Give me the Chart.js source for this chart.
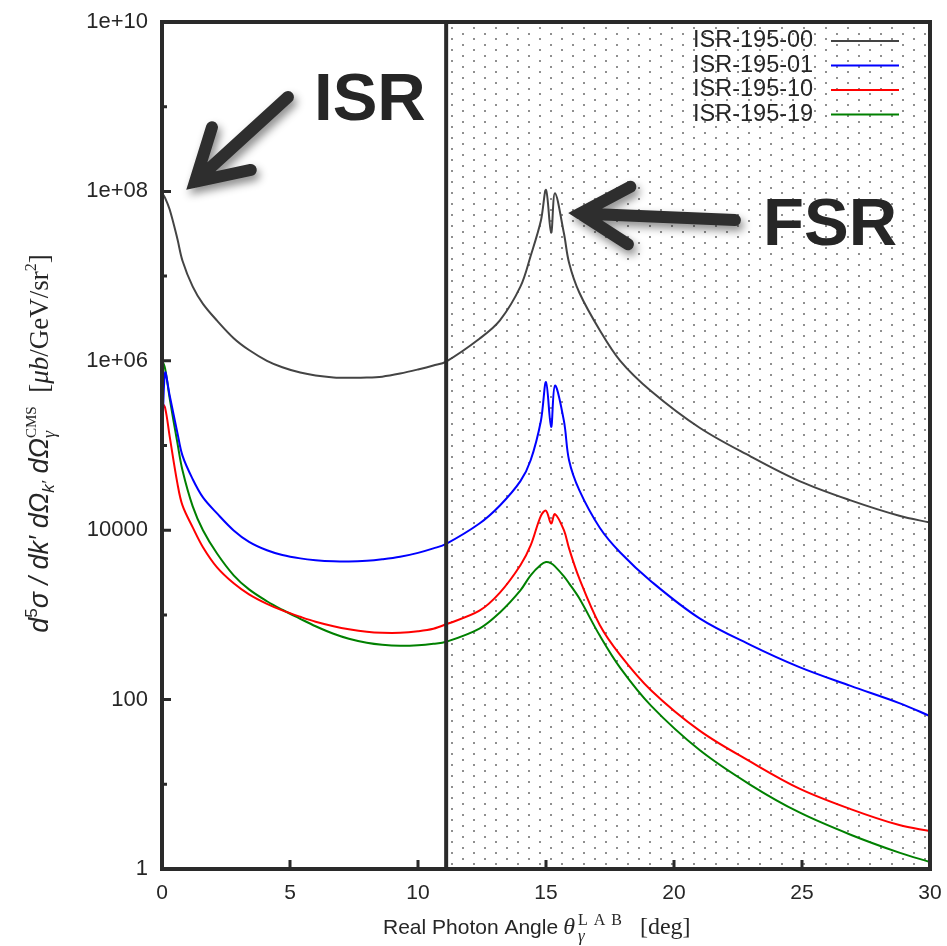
<!DOCTYPE html>
<html lang="en">
<head>
  <meta charset="UTF-8">
  <title>Real photon angle spectrum</title>
  <script src="https://cdn.jsdelivr.net/npm/chart.js"></script>
  <style>
    body { margin: 0; background: #fff; }
  </style>
</head>
<body>
  <canvas id="isrChart" width="947" height="946"></canvas>
  <script>
    // photon angle in the lab frame (deg)
    const angles = [0, 0.12, 0.3, 0.6, 0.8, 1.2, 1.6, 2.15, 2.8, 3.4, 4.1, 4.7, 5.4, 6.0, 6.7, 7.3, 8.0, 8.6, 9.3, 10.0,
      10.6, 11.1, 12.4, 13.2, 14.0, 14.4, 14.8, 15.0, 15.2, 15.35, 15.7, 15.9, 16.3, 17.1, 17.9, 19.1, 21.0, 23.0, 24.9,
      26.9, 28.8, 30.0];

    // cross sections, μb/GeV/sr²
    const isr00 = [9.6e7, 8.4e7, 6.1e7, 2.76e7, 1.52e7, 7.5e6, 4.7e6, 2.98e6, 1.85e6, 1.34e6, 1.0e6, 8.4e5, 7.26e5,
      6.7e5, 6.37e5, 6.3e5, 6.33e5, 6.5e5, 7.07e5, 7.9e5, 8.8e5, 9.8e5, 1.82e6, 3.0e6, 7.5e6, 1.73e7, 4.5e7, 1.04e8,
      3.25e7, 9.5e7, 3.2e7, 1.44e7, 6.4e6, 2.3e6, 1.0e6, 4.4e5, 1.62e5, 7.4e4, 3.8e4, 2.25e4, 1.48e4, 1.23e4];
    const isr01 = [9.1e4, 7.2e5, 3.9e5, 1.42e5, 7.6e4, 4.0e4, 2.44e4, 1.58e4, 9.95e3, 7.3e3, 5.8e3, 5.1e3, 4.65e3,
      4.43e3, 4.29e3, 4.26e3, 4.35e3, 4.53e3, 4.85e3, 5.4e3, 6.1e3, 6.9e3, 1.2e4, 1.96e4, 3.8e4, 6.7e4, 1.95e5, 5.6e5,
      1.66e5, 5.1e5, 1.95e5, 6.7e4, 2.97e4, 1.07e4, 5.45e3, 2.5e3, 910, 440, 242, 145, 91, 64];
    const isr10 = [3.2e5, 2.8e5, 1.28e5, 3.6e4, 1.96e4, 1.08e4, 6.3e3, 3.64e3, 2.36e3, 1.75e3, 1.35e3, 1.13e3, 950,
      830, 735, 677, 632, 615, 615, 641, 686, 775, 1.12e3, 1.83e3, 3.85e3, 6.6e3, 1.48e4, 1.7e4, 1.2e4, 1.55e4, 1.0e4,
      6.1e3, 2.7e3, 760, 335, 129, 43, 18.4, 8.9, 5.1, 3.3, 2.8];
    const isr19 = [1.03e6, 8.1e5, 3.6e5, 1.08e5, 5.1e4, 1.91e4, 1.0e4, 5.3e3, 2.93e3, 2.0e3, 1.45e3, 1.15e3, 900, 735,
      599, 523, 469, 444, 432, 438, 456, 482, 690, 1.07e3, 1.95e3, 2.93e3, 3.9e3, 4.2e3, 4.06e3, 3.74e3, 2.85e3,
      2.36e3, 1.57e3, 570, 237, 85, 25.4, 9.8, 4.65, 2.54, 1.56, 1.21];

    const seriesNames = ['ISR-195-00', 'ISR-195-01', 'ISR-195-10', 'ISR-195-19'];
    const seriesColors = ['#444444', '#0000ff', '#ff0000', '#008000'];
    const seriesValues = [isr00, isr01, isr10, isr19];

    const xTicks = [0, 5, 10, 15, 20, 25, 30];
    const yTicks = [1, 100, 1e4, 1e6, 1e8, 1e10];
    const yTickLabels = ['1', '100', '10000', '1e+06', '1e+08', '1e+10'];
    const yMinorTicks = [10, 1e3, 1e5, 1e7, 1e9];

    // dotted band (FSR region) starts here
    const bandStart = 11.1;

    // annotation arrows: [angle, value] for tail and tip, label anchor
    const isrArrow = { tail: [4.92, 1.3e9], tip: [1.29, 1.3e8], text: 'ISR', at: [5.94, 7.0e8] };
    const fsrArrow = { tail: [22.38, 4.6e7], tip: [16.33, 5.5e7], text: 'FSR', at: [23.48, 2.3e7] };

    const SANS = '"Liberation Sans", Arial, sans-serif';
    const SERIF = '"Liberation Serif", "Times New Roman", serif';
    const INK = '#262626';

    Chart.defaults.font.family = SANS;

    // text with sub/superscripts; hold:true shares x with the next part, gap adds space before a part
    function partWidth(ctx, p) {
      ctx.font = p.font;
      ctx.letterSpacing = p.spacing || '0px';
      return ctx.measureText(p.text).width;
    }
    function richWidth(ctx, parts) {
      let w = 0, held = 0;
      for (const p of parts) {
        w += p.gap || 0;
        const pw = partWidth(ctx, p);
        if (p.hold) { held = Math.max(held, pw); continue; }
        w += Math.max(pw, held);
        held = 0;
      }
      ctx.letterSpacing = '0px';
      return w;
    }
    function drawRich(ctx, parts, x, y) {
      let held = 0;
      for (const p of parts) {
        x += p.gap || 0;
        const pw = partWidth(ctx, p);
        ctx.fillText(p.text, x, y + (p.dy || 0));
        if (p.hold) { held = Math.max(held, pw); continue; }
        x += Math.max(pw, held);
        held = 0;
      }
      ctx.letterSpacing = '0px';
    }

    const yTitle = [
      { text: 'd', font: `italic 27px ${SANS}` },
      { text: '5', font: `17px ${SANS}`, dy: -11 },
      { text: 'σ / dk′ dΩ', font: `italic 27px ${SANS}` },
      { text: 'k′', font: `italic 17px ${SANS}`, dy: 6 },
      { text: ' dΩ', font: `italic 27px ${SANS}` },
      { text: 'CMS', font: `15px ${SERIF}`, dy: -12, hold: true },
      { text: 'γ', font: `italic 18px ${SERIF}`, dy: 7 },
      { text: '  [', font: `27px ${SERIF}` },
      { text: 'μb', font: `italic 27px ${SERIF}` },
      { text: '/GeV/sr', font: `27px ${SERIF}` },
      { text: '2', font: `16px ${SERIF}`, dy: -12 },
      { text: ']', font: `27px ${SERIF}` }
    ];
    const xTitle = [
      { text: 'Real Photon Angle', font: `21px ${SANS}` },
      { text: 'θ', font: `italic 24px ${SERIF}`, gap: 5 },
      { text: 'LAB', font: `16px ${SERIF}`, dy: -9, hold: true, spacing: '6px', gap: 3 },
      { text: 'γ', font: `italic 17px ${SERIF}`, dy: 7 },
      { text: '[deg]', font: `24px ${SERIF}`, gap: 12 }
    ];

    function drawArrow(ctx, x0, y0, x1, y1) {
      const back = Math.atan2(y0 - y1, x0 - x1);
      const len = 57, spread = 0.53;
      ctx.beginPath();
      ctx.moveTo(x0, y0);
      ctx.lineTo(x1, y1);
      ctx.moveTo(x1 + len * Math.cos(back - spread), y1 + len * Math.sin(back - spread));
      ctx.lineTo(x1, y1);
      ctx.lineTo(x1 + len * Math.cos(back + spread), y1 + len * Math.sin(back + spread));
      ctx.stroke();
    }

    const decor = {
      id: 'decor',
      beforeDatasetsDraw(chart) {
        const { ctx, chartArea: a, scales: { x } } = chart;
        const tile = document.createElement('canvas');
        tile.width = 22;
        tile.height = 11;
        const t = tile.getContext('2d');
        t.fillStyle = '#8f8f8f';
        t.fillRect(0, 0, 2, 2);
        t.fillRect(11, 5, 2, 2);
        const xb = x.getPixelForValue(bandStart);
        ctx.save();
        ctx.fillStyle = ctx.createPattern(tile, 'repeat');
        ctx.fillRect(xb, a.top, a.right - xb, a.bottom - a.top);
        ctx.restore();
      },
      afterDatasetsDraw(chart) {
        const { ctx, chartArea: a, scales: { x, y } } = chart;
        ctx.save();

        // frame and band edge
        ctx.strokeStyle = '#2a2a2a';
        ctx.lineWidth = 4;
        ctx.strokeRect(a.left, a.top, a.right - a.left, a.bottom - a.top);
        const xb = x.getPixelForValue(bandStart);
        ctx.beginPath();
        ctx.moveTo(xb, a.top);
        ctx.lineTo(xb, a.bottom);
        ctx.stroke();

        // inward ticks
        ctx.lineWidth = 3;
        ctx.beginPath();
        yTicks.forEach(v => {
          const py = y.getPixelForValue(v);
          ctx.moveTo(a.left, py); ctx.lineTo(a.left + 9, py);
        });
        yMinorTicks.forEach(v => {
          const py = y.getPixelForValue(v);
          ctx.moveTo(a.left, py); ctx.lineTo(a.left + 5, py);
        });
        xTicks.slice(1, -1).forEach(v => {
          const px = x.getPixelForValue(v);
          ctx.moveTo(px, a.bottom); ctx.lineTo(px, a.bottom - 9);
        });
        ctx.stroke();

        // legend
        ctx.font = `23.5px ${SANS}`;
        ctx.textBaseline = 'middle';
        ctx.lineWidth = 2;
        seriesNames.forEach((name, i) => {
          const ry = a.top + 19 + i * 24.5;
          ctx.fillStyle = INK;
          ctx.fillText(name, a.right - 237, ry);
          ctx.strokeStyle = seriesColors[i];
          ctx.beginPath();
          ctx.moveTo(a.right - 99, ry);
          ctx.lineTo(a.right - 31, ry);
          ctx.stroke();
        });

        // ISR / FSR callouts
        ctx.textBaseline = 'alphabetic';
        [isrArrow, fsrArrow].forEach(c => {
          ctx.save();
          ctx.strokeStyle = '#2e2e2e';
          ctx.lineWidth = 12;
          ctx.lineCap = 'round';
          ctx.lineJoin = 'miter';
          ctx.shadowColor = 'rgba(0,0,0,0.45)';
          ctx.shadowBlur = 9;
          ctx.shadowOffsetX = 3;
          ctx.shadowOffsetY = 5;
          drawArrow(ctx,
            x.getPixelForValue(c.tail[0]), y.getPixelForValue(c.tail[1]),
            x.getPixelForValue(c.tip[0]), y.getPixelForValue(c.tip[1]));
          ctx.restore();
          ctx.fillStyle = INK;
          ctx.font = `bold 67px ${SANS}`;
          ctx.fillText(c.text, x.getPixelForValue(c.at[0]), y.getPixelForValue(c.at[1]));
        });

        ctx.restore();
      },
      afterDraw(chart) {
        const { ctx, chartArea: a } = chart;
        ctx.save();
        ctx.fillStyle = INK;
        ctx.textBaseline = 'alphabetic';
        drawRich(ctx, xTitle, a.left + 221, 934);
        ctx.translate(48, (a.top + a.bottom) / 2 - 2);
        ctx.rotate(-Math.PI / 2);
        const wy = richWidth(ctx, yTitle);
        drawRich(ctx, yTitle, -wy / 2, 0);
        ctx.restore();
      }
    };

    const ctx = document.getElementById('isrChart').getContext('2d');
    new Chart(ctx, {
      type: 'line',
      data: {
        datasets: seriesValues.map((vals, i) => ({
          label: seriesNames[i],
          data: angles.map((a, j) => ({ x: a, y: vals[j] })),
          borderColor: seriesColors[i],
          borderWidth: 2,
          pointRadius: 0,
          fill: false,
          tension: 0.35
        }))
      },
      options: {
        responsive: false,
        animation: false,
        layout: { padding: { top: 22, right: 17, left: 0, bottom: 0 } },
        plugins: { legend: { display: false }, tooltip: { enabled: false } },
        scales: {
          x: {
            type: 'linear',
            min: 0,
            max: 30,
            afterBuildTicks: s => { s.ticks = xTicks.map(v => ({ value: v })); },
            afterFit: s => {
              s.height = 77;
              s.paddingLeft = 0;
              s.paddingRight = 0;
            },
            grid: { display: false, drawTicks: false },
            border: { display: false },
            ticks: { color: INK, font: { size: 21 }, padding: 12, maxRotation: 0 }
          },
          y: {
            type: 'logarithmic',
            min: 1,
            max: 1e10,
            afterBuildTicks: s => { s.ticks = yTicks.map(v => ({ value: v })); },
            afterFit: s => {
              s.width = 162;
              s.paddingTop = 0;
              s.paddingBottom = 0;
            },
            grid: { display: false, drawTicks: false },
            border: { display: false },
            ticks: {
              color: INK,
              font: { size: 22, lineHeight: 1 },
              padding: 14,
              callback: v => yTickLabels[yTicks.indexOf(v)]
            }
          }
        }
      },
      plugins: [decor]
    });
  </script>
</body>
</html>
